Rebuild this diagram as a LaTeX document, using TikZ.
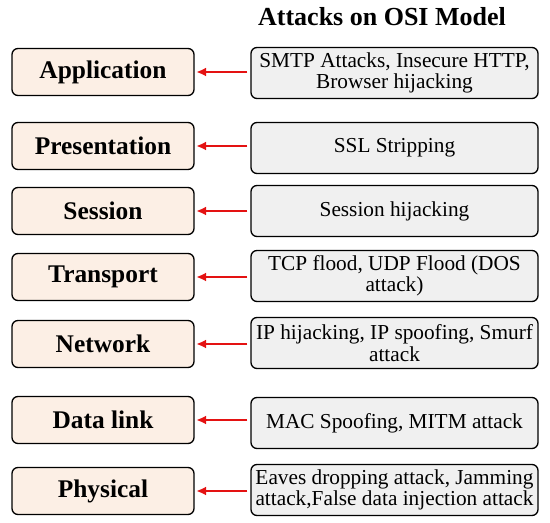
\documentclass[tikz,border=0pt]{standalone}
\usepackage{fontspec}
\setmainfont{Liberation Serif}
\usetikzlibrary{arrows.meta}
\definecolor{peach}{RGB}{252,239,229}
\definecolor{lgray}{RGB}{240,240,240}
\definecolor{arrred}{RGB}{228,18,18}
\tikzset{
  layerbox/.style={draw=black, line width=1.3pt, rounded corners=6pt, fill=peach,
    minimum width=182pt, minimum height=47pt, inner sep=0pt,
    font=\fontsize{25.4}{28}\selectfont\bfseries},
  attackbox/.style={draw=black, line width=1.3pt, rounded corners=6pt, fill=lgray,
    minimum width=287pt, minimum height=51pt, inner sep=0pt, align=center,
    font=\fontsize{21.3}{21.5}\selectfont},
  attackarrow/.style={draw=arrred, line width=2.6pt, -{Latex[length=10pt,width=9pt]},
    shorten >=1.5pt, shorten <=3pt}
}
\begin{document}
\begin{tikzpicture}[x=1pt,y=1pt]
\useasboundingbox (0,0) rectangle (550,523);
\node[font=\fontsize{26}{28}\selectfont\bfseries] (title) at (382,506) {Attacks on OSI Model};
% layer boxes (image y -> 523 - y)
\node[layerbox] (l1) at (103,451) {Application};
\node[layerbox] (l2) at (103,377) {Presentation};
\node[layerbox] (l3) at (103,312) {Session};
\node[layerbox] (l4) at (103,246) {Transport};
\node[layerbox] (l5) at (103,179) {Network};
\node[layerbox] (l6) at (103,103) {Data link};
\node[layerbox] (l7) at (103,32) {Physical};
% attack boxes
\node[attackbox] (a1) at (394.5,450) {SMTP Attacks, Insecure HTTP,\\Browser hijacking};
\node[attackbox] (a2) at (394.5,375) {SSL Stripping};
\node[attackbox] (a3) at (394.5,312) {Session hijacking};
\node[attackbox] (a4) at (394.5,247) {TCP flood, UDP Flood (DOS\\attack)};
\node[attackbox] (a5) at (394.5,180) {IP hijacking, IP spoofing, Smurf\\attack};
\node[attackbox] (a6) at (394.5,100) {MAC Spoofing, MITM attack};
\node[attackbox] (a7) at (394.5,33) {Eaves dropping attack, Jamming\\attack,False data injection attack};
% arrows
\foreach \i in {1,...,7}{
  \draw[attackarrow] (a\i.west |- l\i.east) -- (l\i.east);
}
\end{tikzpicture}
\end{document}
